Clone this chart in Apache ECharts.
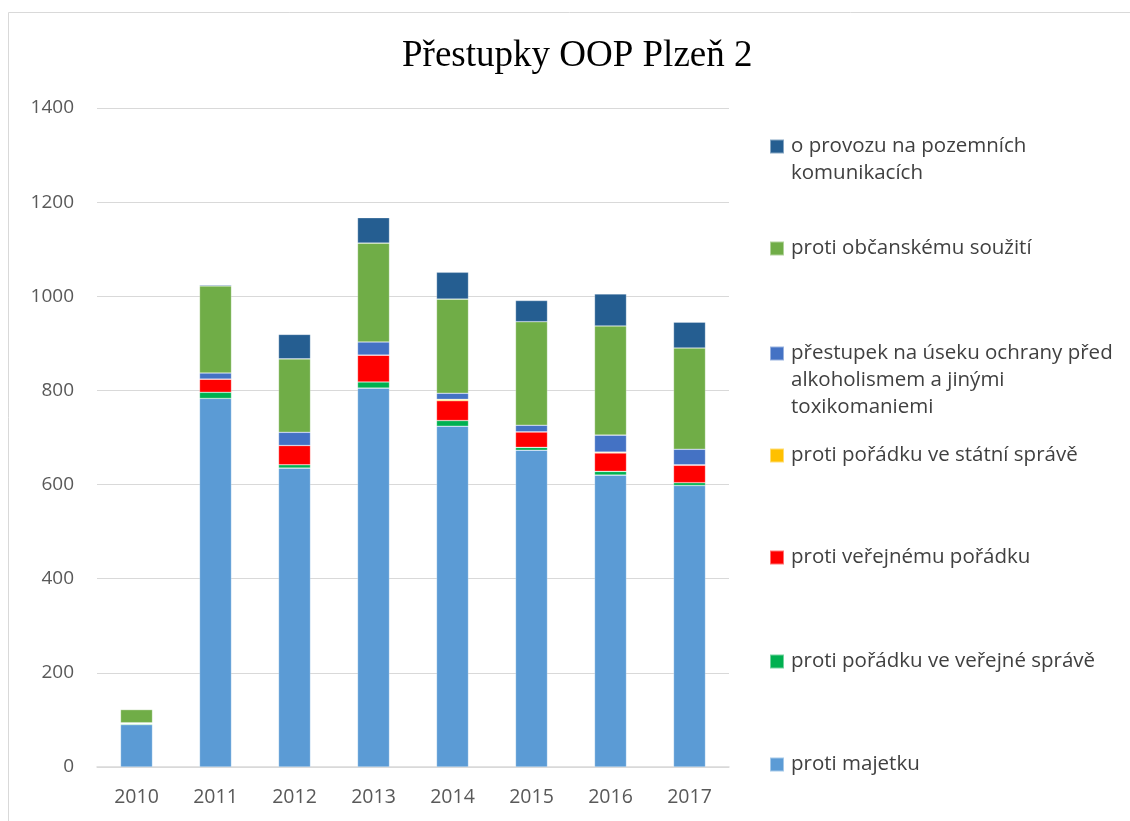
<!DOCTYPE html>
<html>
<head>
<meta charset="utf-8">
<script src="https://cdn.jsdelivr.net/npm/echarts@6/dist/echarts.min.js"></script>
<style>
  html, body { margin: 0; padding: 0; background: #fff; }
  #chart { width: 1130px; height: 821px; }
</style>
</head>
<body>
<div id="chart"></div>
<script>
    // roky
    var years = ['2010', '2011', '2012', '2013', '2014', '2015', '2016', '2017'];

    // hodnoty
    var majetek = [90, 783, 635, 805, 724, 673, 620, 598];
    var verejnaSprava = [2, 13, 7, 13, 12, 6, 8, 6];
    var verejnyPoradek = [1, 28, 41, 57, 42, 33, 39, 37];
    var statniSprava = [0, 0, 0, 0, 3, 0, 2, 1];
    var alkoholismus = [1, 13, 28, 28, 13, 14, 36, 33];
    var obcanskeSouziti = [28, 185, 156, 210, 200, 220, 232, 215];
    var provoz = [0, 2, 52, 54, 57, 45, 68, 55];

    var yTicks = [0, 200, 400, 600, 800, 1000, 1200, 1400];

    var names = [
        'proti majetku',
        'proti pořádku ve veřejné správě',
        'proti veřejnému pořádku',
        'proti pořádku ve státní správě',
        'přestupek na úseku ochrany před alkoholismem a jinými toxikomaniemi',
        'proti občanskému soužití',
        'o provozu na pozemních komunikacích'
    ];
    // prázdné řádky nahoře => ikonka zarovnaná s prvním řádkem
    var labels = [
        'proti majetku',
        'proti pořádku ve veřejné správě',
        'proti veřejnému pořádku',
        'proti pořádku ve státní správě',
        '\n\npřestupek na úseku ochrany před\nalkoholismem a jinými\ntoxikomaniemi',
        'proti občanskému soužití',
        '\no provozu na pozemních\nkomunikacích'
    ];
    var colors = ['#5B9BD5', '#00B050', '#FF0000', '#FFC000', '#4472C4', '#70AD47', '#255E91'];
    var data = [majetek, verejnaSprava, verejnyPoradek, statniSprava, alkoholismus, obcanskeSouziti, provoz];
    // pozice legendy (shora)
    var legendTop = [746, 643, 539, 437, 281, 230, 101];

    var series = [];
    var legends = [];
    names.forEach(function(n, k) {
        series.push({
            name: n,
            type: 'bar',
            stack: 'all',
            barWidth: 32,
            data: data[k],
            itemStyle: {
                color: colors[k],
                borderColor: 'rgba(255,255,255,0.45)',
                borderWidth: 0.6
            }
        });
        legends.push({
            data: [n],
            left: 764,
            top: legendTop[k],
            icon: 'rect',
            itemWidth: 14,
            itemHeight: 14,
            itemGap: 0,
            selectedMode: false,
            formatter: function() { return labels[k]; },
            textStyle: {
                fontFamily: 'Open Sans',
                fontSize: 20.5,
                color: '#404040',
                lineHeight: 27,
                padding: [0, 0, 0, 2]
            }
        });
    });

    var chart = echarts.init(document.getElementById('chart'));
    chart.setOption({
        animation: false,
        color: colors,
        title: {
            text: 'Přestupky OOP Plzeň 2',
            left: 397,
            top: 33,
            textStyle: {
                fontFamily: 'Liberation Serif',
                fontSize: 37,
                fontWeight: 'normal',
                color: '#000'
            }
        },
        graphic: [{
            type: 'rect',
            shape: { x: 8.5, y: 12.5, width: 1200, height: 900 },
            style: { fill: 'none', stroke: '#D9D9D9', lineWidth: 1 },
            silent: true
        }],
        legend: legends,
        grid: {
            left: 97,
            right: 401,
            top: 108,
            bottom: 54
        },
        xAxis: {
            type: 'category',
            data: years,
            axisLine: { lineStyle: { color: '#D9D9D9', width: 1.5 } },
            axisTick: { show: false },
            axisLabel: {
                fontFamily: 'Open Sans',
                fontSize: 19.5,
                color: '#595959',
                margin: 20
            }
        },
        yAxis: {
            type: 'value',
            min: yTicks[0],
            max: yTicks[yTicks.length - 1],
            interval: 200,
            axisLine: { show: false },
            axisTick: { show: false },
            splitLine: { lineStyle: { color: '#D9D9D9', width: 1 } },
            axisLabel: {
                fontFamily: 'Open Sans',
                fontSize: 19,
                color: '#595959',
                margin: 23,
                formatter: function(v) { return String(v); }
            }
        },
        series: series
    });
</script>
</body>
</html>
